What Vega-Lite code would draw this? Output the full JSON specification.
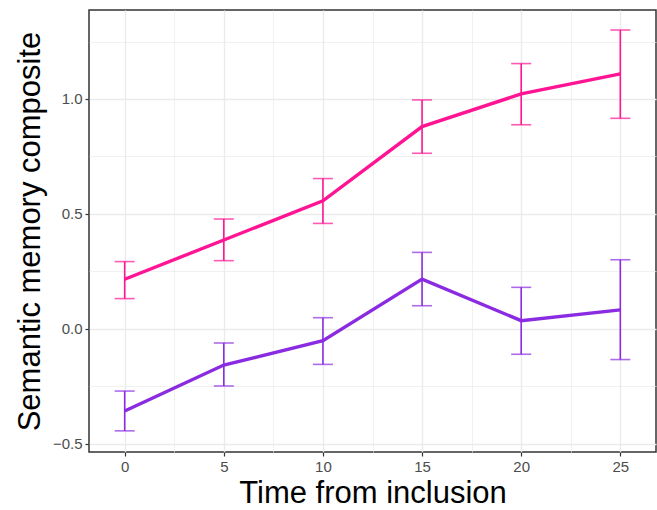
{
  "$schema": "https://vega.github.io/schema/vega-lite/v6.json",
  "width": 567,
  "height": 442,
  "autosize": {"type": "none"},
  "padding": {"left": 89, "top": 10, "right": 1, "bottom": 58},
  "background": "white",
  "config": {
    "font": "Liberation Sans",
    "view": {"stroke": "#333333", "strokeWidth": 1.5}
  },
  "data": {
    "values": [
      {"group": "A", "time": 0, "mean": 0.216, "lower": 0.132, "upper": 0.293},
      {"group": "A", "time": 5, "mean": 0.387, "lower": 0.297, "upper": 0.478},
      {"group": "A", "time": 10, "mean": 0.557, "lower": 0.459, "upper": 0.654},
      {"group": "A", "time": 15, "mean": 0.880, "lower": 0.764, "upper": 0.996},
      {"group": "A", "time": 20, "mean": 1.022, "lower": 0.888, "upper": 1.154},
      {"group": "A", "time": 25, "mean": 1.109, "lower": 0.916, "upper": 1.300},
      {"group": "B", "time": 0, "mean": -0.357, "lower": -0.443, "upper": -0.270},
      {"group": "B", "time": 5, "mean": -0.157, "lower": -0.248, "upper": -0.061},
      {"group": "B", "time": 10, "mean": -0.051, "lower": -0.154, "upper": 0.049},
      {"group": "B", "time": 15, "mean": 0.217, "lower": 0.101, "upper": 0.333},
      {"group": "B", "time": 20, "mean": 0.036, "lower": -0.110, "upper": 0.181},
      {"group": "B", "time": 25, "mean": 0.083, "lower": -0.133, "upper": 0.301}
    ]
  },
  "encoding": {
    "x": {
      "field": "time",
      "type": "quantitative",
      "scale": {"domain": [-1.8, 26.8], "nice": false, "zero": false},
      "axis": {
        "title": "Time from inclusion",
        "values": [0, 2.5, 5, 7.5, 10, 12.5, 15, 17.5, 20, 22.5, 25],
        "labelExpr": "datum.value % 5 === 0 ? format(datum.value, 'd') : ''",
        "domain": false,
        "grid": true,
        "gridColor": "#EBEBEB",
        "gridWidth": {"condition": {"test": "datum.value % 5 === 0", "value": 1.4}, "value": 0.7},
        "tickColor": "#333333",
        "tickWidth": 1.2,
        "tickSize": 4,
        "tickOpacity": {"condition": {"test": "datum.value % 5 === 0", "value": 1}, "value": 0},
        "labelFontSize": 15,
        "labelColor": "#4D4D4D",
        "labelPadding": 3,
        "titleFontSize": 31,
        "titleFontWeight": "normal",
        "titleColor": "black",
        "titlePadding": 4
      }
    },
    "color": {
      "field": "group",
      "type": "nominal",
      "scale": {"domain": ["A", "B"], "range": ["#FF1493", "#8A2BE2"]},
      "legend": null
    }
  },
  "layer": [
    {
      "mark": {"type": "rule", "strokeWidth": 1.6},
      "encoding": {
        "y": {
          "field": "lower",
          "type": "quantitative",
          "scale": {"domain": [-0.535, 1.387], "nice": false, "zero": false},
          "axis": {
            "title": "Semantic memory composite",
            "values": [-0.5, -0.25, 0, 0.25, 0.5, 0.75, 1, 1.25],
            "labelExpr": "abs(datum.value * 2 - round(datum.value * 2)) < 0.000001 ? format(datum.value, '.1f') : ''",
            "domain": false,
            "grid": true,
            "gridColor": "#EBEBEB",
            "gridWidth": {"condition": {"test": "abs(datum.value * 2 - round(datum.value * 2)) < 0.000001", "value": 1.4}, "value": 0.7},
            "tickColor": "#333333",
            "tickWidth": 1.2,
            "tickSize": 4,
            "tickOpacity": {"condition": {"test": "abs(datum.value * 2 - round(datum.value * 2)) < 0.000001", "value": 1}, "value": 0},
            "labelFontSize": 15,
            "labelColor": "#4D4D4D",
            "labelPadding": 3,
            "titleFontSize": 31,
            "titleFontWeight": "normal",
            "titleColor": "black",
            "titlePadding": 6
          }
        },
        "y2": {"field": "upper"}
      }
    },
    {
      "mark": {"type": "tick", "orient": "horizontal", "size": 20, "thickness": 1.6},
      "encoding": {"y": {"field": "lower", "type": "quantitative"}}
    },
    {
      "mark": {"type": "tick", "orient": "horizontal", "size": 20, "thickness": 1.6},
      "encoding": {"y": {"field": "upper", "type": "quantitative"}}
    },
    {
      "mark": {"type": "line", "strokeWidth": 3.4},
      "encoding": {"y": {"field": "mean", "type": "quantitative"}}
    }
  ]
}
